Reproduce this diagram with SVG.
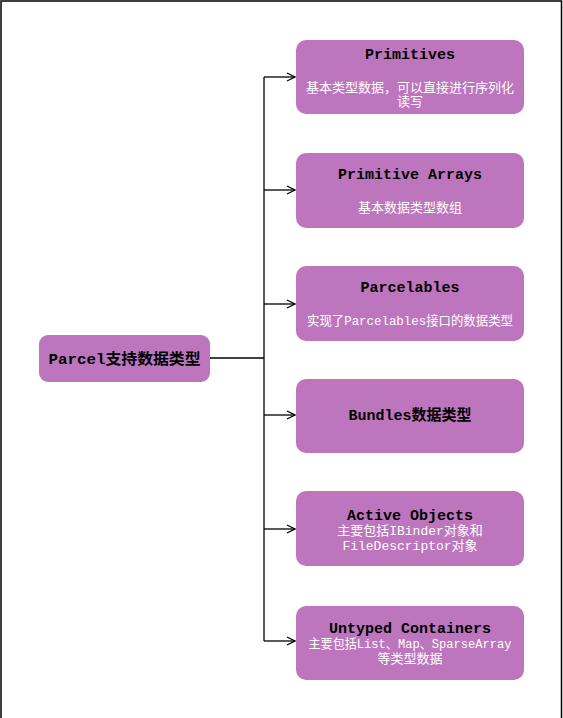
<svg xmlns="http://www.w3.org/2000/svg" width="563" height="718" viewBox="0 0 563 718">
<style>
.box{fill:#bd76bd;}
.t{font-family:"Liberation Mono","Noto Sans CJK SC",monospace;font-weight:bold;font-size:15px;fill:#000;text-anchor:middle;}
.s{font-family:"Liberation Mono","Noto Sans CJK SC",monospace;font-size:13px;fill:#fff;text-anchor:middle;}
.c{fill:none;stroke:#000;stroke-width:1.3;}
</style>
<defs>
<marker id="arr" markerWidth="10" markerHeight="10" refX="9" refY="5" orient="auto" markerUnits="userSpaceOnUse">
<path d="M1,1 L9,5 L1,9" fill="none" stroke="#000" stroke-width="1.2"/>
</marker>
</defs>
<rect x="0" y="0" width="563" height="718" fill="#fff"/>
<path d="M1,718 V1 H561.5 V718" fill="none" stroke="#000" stroke-width="1.5"/>
<g id="connectors">
<path class="c" d="M210,358 H264"/>
<path class="c" d="M264,77 V641"/>
<path class="c" d="M264,77 H295" marker-end="url(#arr)"/>
<path class="c" d="M264,190 H295" marker-end="url(#arr)"/>
<path class="c" d="M264,304 H295" marker-end="url(#arr)"/>
<path class="c" d="M264,415 H295" marker-end="url(#arr)"/>
<path class="c" d="M264,529 H295" marker-end="url(#arr)"/>
<path class="c" d="M264,641 H295" marker-end="url(#arr)"/>
</g>
<g id="root">
<rect class="box" x="39" y="335" width="171" height="47" rx="9"/>
<text class="t" x="124.5" y="364" textLength="152" lengthAdjust="spacingAndGlyphs">Parcel支持数据类型</text>
</g>
<g id="primitives">
<rect class="box" x="296" y="40" width="228" height="74" rx="10"/>
<text class="t" x="410" y="59">Primitives</text>
<text class="s" x="410" y="92">基本类型数据，可以直接进行序列化</text>
<text class="s" x="410" y="106">读写</text>
</g>
<g id="primitive-arrays">
<rect class="box" x="296" y="153" width="228" height="75" rx="10"/>
<text class="t" x="410" y="179">Primitive Arrays</text>
<text class="s" x="410" y="212">基本数据类型数组</text>
</g>
<g id="parcelables">
<rect class="box" x="296" y="266" width="228" height="75" rx="10"/>
<text class="t" x="410" y="292">Parcelables</text>
<text class="s" x="410" y="325" textLength="206" lengthAdjust="spacingAndGlyphs">实现了Parcelables接口的数据类型</text>
</g>
<g id="bundles">
<rect class="box" x="296" y="379" width="228" height="74" rx="10"/>
<text class="t" x="410" y="420">Bundles数据类型</text>
</g>
<g id="active-objects">
<rect class="box" x="296" y="491" width="228" height="75" rx="10"/>
<text class="t" x="410" y="520">Active Objects</text>
<text class="s" x="410" y="535">主要包括IBinder对象和</text>
<text class="s" x="410" y="550">FileDescriptor对象</text>
</g>
<g id="untyped-containers">
<rect class="box" x="296" y="606" width="228" height="74" rx="10"/>
<text class="t" x="410" y="633">Untyped Containers</text>
<text class="s" x="410" y="648" textLength="203" lengthAdjust="spacingAndGlyphs">主要包括List、Map、SparseArray</text>
<text class="s" x="410" y="663">等类型数据</text>
</g>
</svg>
